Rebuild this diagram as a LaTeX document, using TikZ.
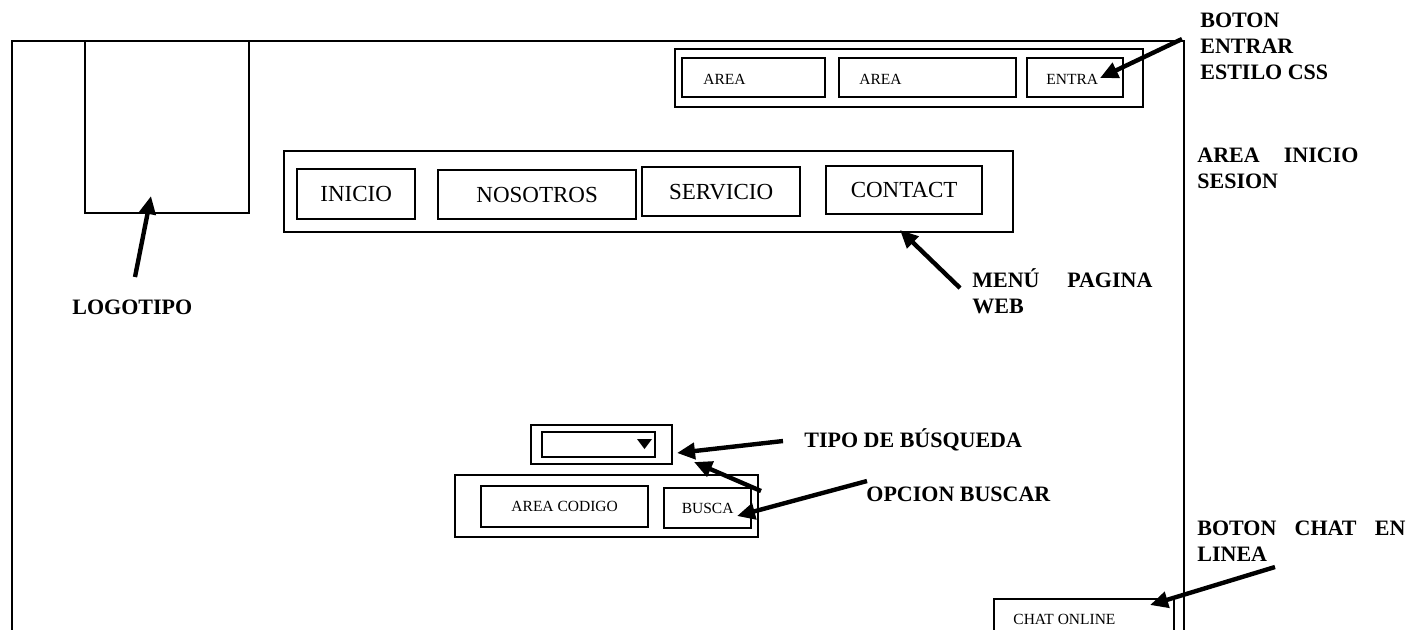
\documentclass[tikz,border=0pt]{standalone}
\usepackage{fontspec}
\setmainfont{Liberation Serif}
\usetikzlibrary{arrows.meta}
\begin{document}
\begin{tikzpicture}[x=0.5pt,y=-0.5pt,
  box/.style={draw, line width=1.15pt, inner sep=0pt, anchor=north west},
  small/.style={font=\fontsize{7.75}{9}\selectfont, inner sep=0pt},
  menutxt/.style={font=\fontsize{11.5}{13}\selectfont},
  lbl/.style={font=\fontsize{11}{13}\selectfont\bfseries, inner sep=0pt, anchor=base west, align=left},
  arr/.style={line width=2.2pt, -{Triangle[length=9pt,width=8pt]}}
]
\useasboundingbox (0,0) rectangle (1407,629);
\clip (0,0) rectangle (1407,629);

% page frame (continues below the visible area)
\node[box, minimum width=586pt, minimum height=330pt] (page) at (11,40) {};

% logo placeholder
\node[box, minimum width=82pt, minimum height=86pt] (logo) at (84,40) {};

% login strip
\node[box, minimum width=234pt, minimum height=29pt] (login) at (674,48) {};
\node[box, minimum width=71.5pt, minimum height=19.5pt] (area1) at (681,57) {};
\node[box, minimum width=88.5pt, minimum height=19.5pt] (area2) at (838,57) {};
\node[box, minimum width=48pt, minimum height=19.5pt] (entra) at (1026,57) {};
\node[small, anchor=west] (area1t) at (703,79) {AREA};
\node[small, anchor=west] (area2t) at (859,79) {AREA};
\node[small, anchor=west] (entrat) at (1046,79) {ENTRA};

% main menu
\node[box, minimum width=364.5pt, minimum height=40.5pt] (menu) at (283,150) {};
\node[box, menutxt, minimum width=59pt, minimum height=25pt] (inicio) at (296,168) {INICIO};
\node[box, menutxt, minimum width=99pt, minimum height=24.5pt] (nosotros) at (437,169) {NOSOTROS};
\node[box, menutxt, minimum width=79pt, minimum height=24.5pt] (servicio) at (641,166) {SERVICIO};
\node[box, menutxt, minimum width=78pt, minimum height=24pt] (contact) at (825,165) {CONTACT};

% search type drop-down
\node[box, minimum width=70.5pt, minimum height=19.5pt] (tipo) at (530,424) {};
\node[box, minimum width=56.5pt, minimum height=12.5pt] (combo) at (541,431) {};
\fill (637,439) -- (652,439) -- (644.5,449) -- cycle;

% search bar
\node[box, minimum width=151.5pt, minimum height=31pt] (search) at (454,474) {};
\node[box, small, minimum width=83.5pt, minimum height=20.5pt] (codigo) at (480,485) {AREA CODIGO};
\node[box, small, minimum width=43.5pt, minimum height=20pt] (busca) at (663,487) {BUSCA};

% chat button (continues below the visible area)
\node[box, minimum width=90pt, minimum height=30pt] (chat) at (993,598) {};
\node[small, anchor=west] (chatt) at (1013,619) {CHAT ONLINE};

% labels (anchored at the baseline of their last line)
\node[lbl] (lblEntrar) at (1200,79) {BOTON\\ENTRAR\\ESTILO CSS};
\node[lbl] (lblSesion) at (1197,188) {\makebox[80.5pt][s]{AREA INICIO}\\SESION};
\node[lbl] (lblMenu) at (972,313) {\makebox[90pt][s]{MENÚ PAGINA}\\WEB};
\node[lbl] (lblLogo) at (72,314) {LOGOTIPO};
\node[lbl] (lblTipo) at (804,447) {TIPO DE BÚSQUEDA};
\node[lbl] (lblBuscar) at (866,501) {OPCION BUSCAR};
\node[lbl] (lblChat) at (1197,561) {\makebox[104pt][s]{BOTON CHAT EN}\\LINEA};

% arrow ends
\coordinate (logoS) at (135,277);   \coordinate (logoE) at (151,196);
\coordinate (entraS) at (1182,39);  \coordinate (entraE) at (1100,78);
\coordinate (menuS) at (960,288);   \coordinate (menuE) at (900,230);
\coordinate (tipoS) at (783,441);   \coordinate (tipoE) at (677,453);
\coordinate (tipo2S) at (761,491);  \coordinate (tipo2E) at (694,462);
\coordinate (buscaS) at (867,481);  \coordinate (buscaE) at (737,516);
\coordinate (chatS) at (1275,567);  \coordinate (chatE) at (1150,605);

\draw[arr] (logoS) -- (logoE);
\draw[arr] (entraS) -- (entraE);
\draw[arr] (menuS) -- (menuE);
\draw[arr] (tipoS) -- (tipoE);
\draw[arr] (tipo2S) -- (tipo2E);
\draw[arr] (buscaS) -- (buscaE);
\draw[arr] (chatS) -- (chatE);
\end{tikzpicture}
\end{document}
